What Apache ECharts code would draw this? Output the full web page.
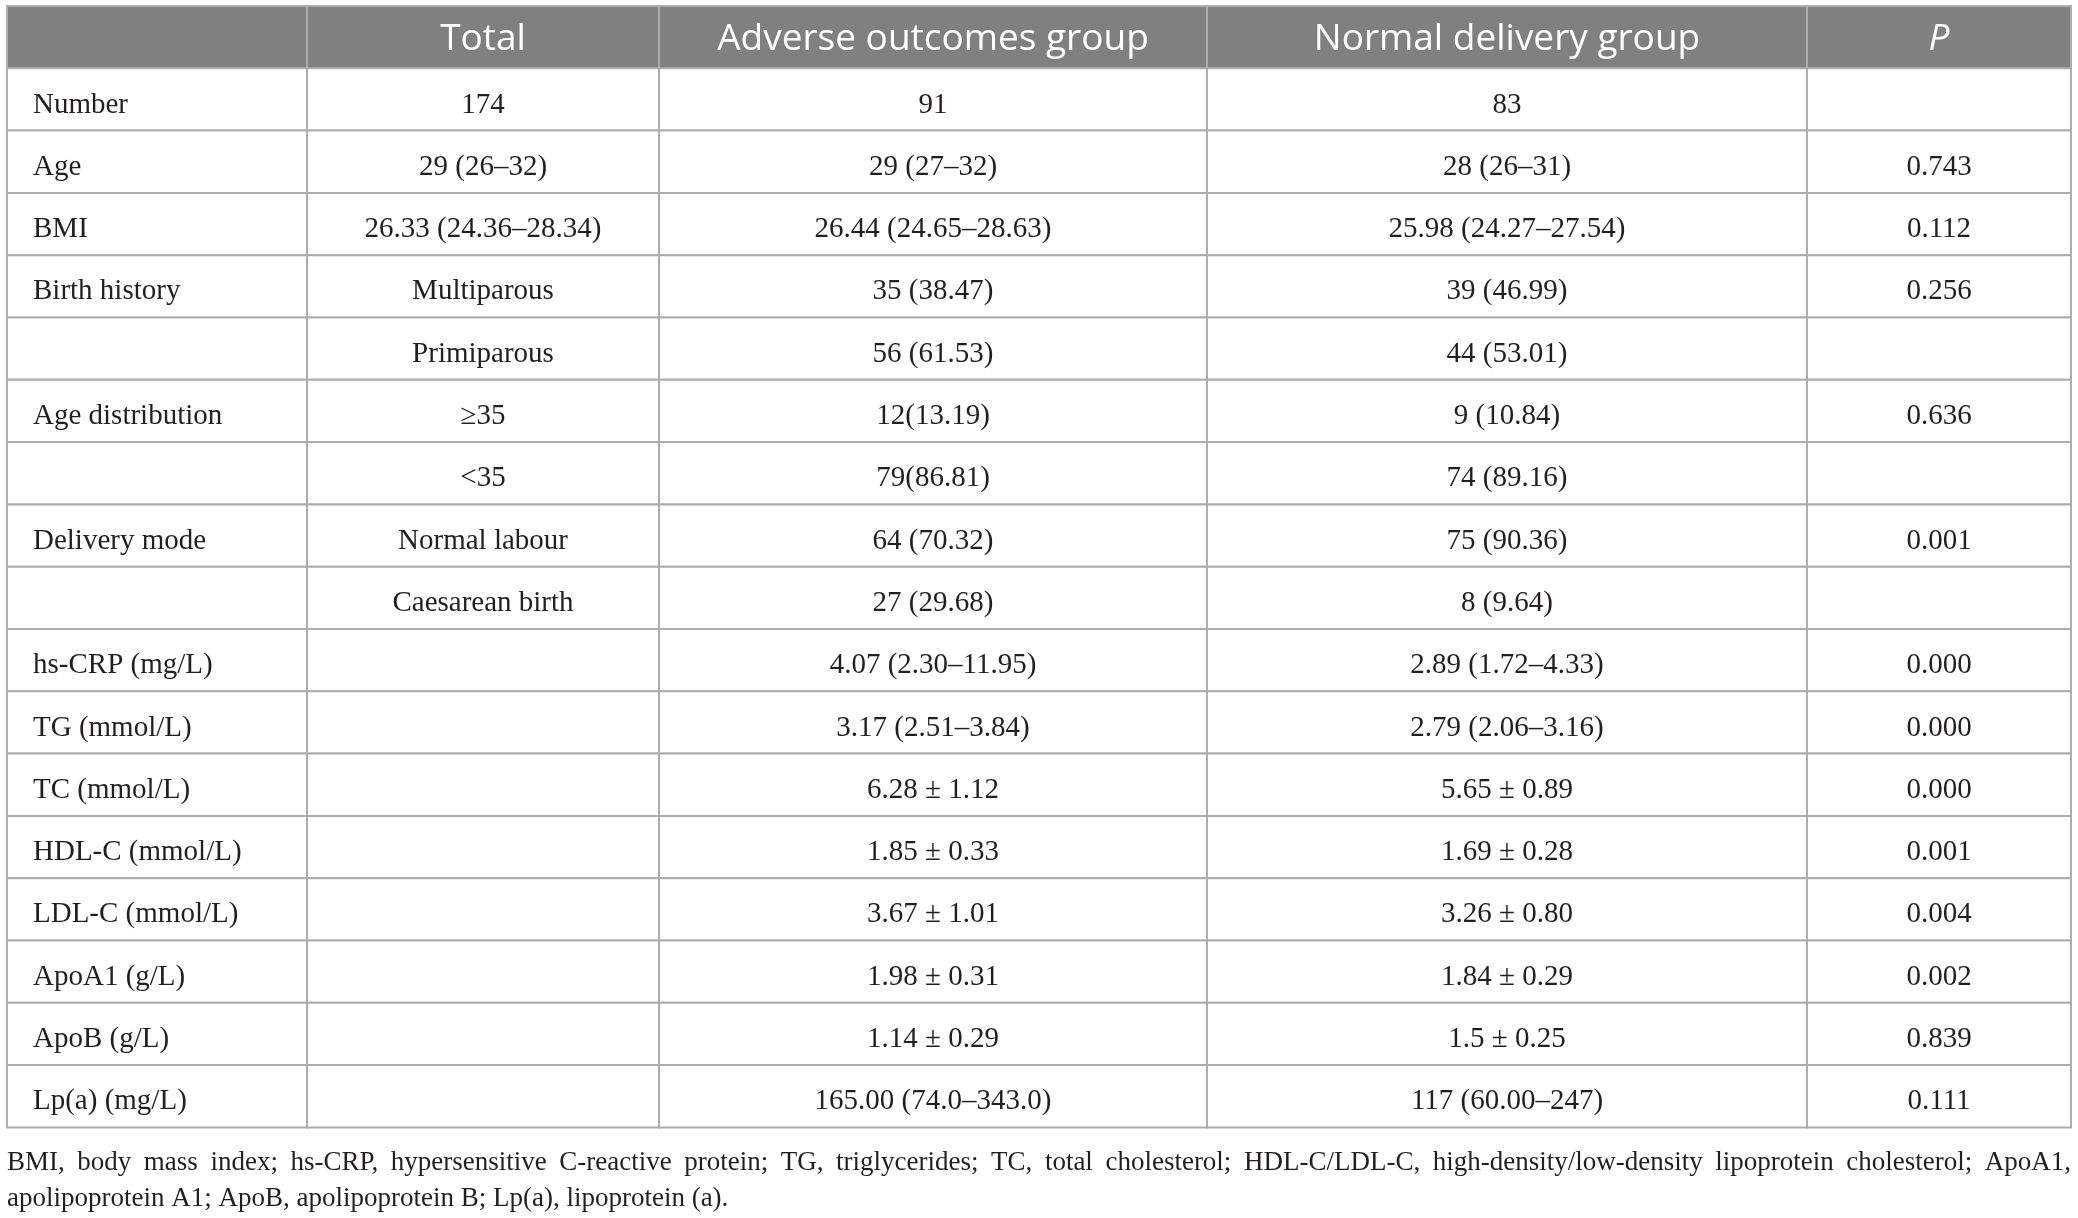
<!DOCTYPE html>
<html>
<head>
<meta charset="utf-8">
<script src="https://cdn.jsdelivr.net/npm/echarts@6/dist/echarts.min.js"></script>
<style>
html,body{margin:0;padding:0;background:#fff;}
#chart{width:2078px;height:1218px;}
</style>
</head>
<body>
<div id="chart"></div>
<script>
// ---------- data ----------
const headers = ['', 'Total', 'Adverse outcomes group', 'Normal delivery group', 'P'];
const rowLabels = ['Number', 'Age', 'BMI', 'Birth history', '', 'Age distribution', '', 'Delivery mode', '',
  'hs-CRP (mg/L)', 'TG (mmol/L)', 'TC (mmol/L)', 'HDL-C (mmol/L)', 'LDL-C (mmol/L)', 'ApoA1 (g/L)', 'ApoB (g/L)', 'Lp(a) (mg/L)'];
const totalCol = ['174', '29 (26–32)', '26.33 (24.36–28.34)', 'Multiparous', 'Primiparous', '≥35', '<35',
  'Normal labour', 'Caesarean birth', '', '', '', '', '', '', '', ''];
const adverseCol = ['91', '29 (27–32)', '26.44 (24.65–28.63)', '35 (38.47)', '56 (61.53)', '12(13.19)', '79(86.81)',
  '64 (70.32)', '27 (29.68)', '4.07 (2.30–11.95)', '3.17 (2.51–3.84)', '6.28 ± 1.12', '1.85 ± 0.33',
  '3.67 ± 1.01', '1.98 ± 0.31', '1.14 ± 0.29', '165.00 (74.0–343.0)'];
const normalCol = ['83', '28 (26–31)', '25.98 (24.27–27.54)', '39 (46.99)', '44 (53.01)', '9 (10.84)', '74 (89.16)',
  '75 (90.36)', '8 (9.64)', '2.89 (1.72–4.33)', '2.79 (2.06–3.16)', '5.65 ± 0.89', '1.69 ± 0.28',
  '3.26 ± 0.80', '1.84 ± 0.29', '1.5 ± 0.25', '117 (60.00–247)'];
const pCol = ['', '0.743', '0.112', '0.256', '', '0.636', '', '0.001', '', '0.000', '0.000', '0.000', '0.001',
  '0.004', '0.002', '0.839', '0.111'];
const footLine1 = 'BMI, body mass index; hs-CRP, hypersensitive C-reactive protein; TG, triglycerides; TC, total cholesterol; HDL-C/LDL-C, high-density/low-density lipoprotein cholesterol; ApoA1,';
const footLine2 = 'apolipoprotein A1; ApoB, apolipoprotein B; Lp(a), lipoprotein (a).';

// ---------- layout ----------
const TABLE_LEFT = 7, TABLE_TOP = 6, ROW_H = 62.3;
const colWidths = [300, 352, 548, 600, 264];
const colEdges = [0];
colWidths.forEach(w => colEdges.push(colEdges[colEdges.length - 1] + w));
const TABLE_W = colEdges[colEdges.length - 1];
const NROWS = rowLabels.length + 1;

const bodyFont = '29px "Liberation Serif", "Times New Roman", serif';
const headFont = '37px "Open Sans", sans-serif';
const headFontItalic = 'italic 37px "Open Sans", sans-serif';
const footFont = '27px "Liberation Serif", "Times New Roman", serif';

// build cell list from columns
const columns = [rowLabels, totalCol, adverseCol, normalCol, pCol];
const cells = [];
for (let c = 0; c < headers.length; c++) {
  cells.push({ value: [c, 0], text: headers[c] });
}
for (let r = 0; r < rowLabels.length; r++) {
  for (let c = 0; c < columns.length; c++) {
    cells.push({ value: [c, r + 1], text: columns[c][r] });
  }
}
const rowKeys = [];
for (let i = 0; i < NROWS; i++) rowKeys.push('row' + i);

function renderItem(params, api) {
  const c = api.value(0), r = api.value(1);
  const text = cells[params.dataIndex].text;
  const x0 = api.coord([colEdges[c], r])[0];
  const x1 = api.coord([colEdges[c + 1], r])[0];
  const yc = api.coord([0, r])[1];
  const h = api.size([0, 1])[1];
  const isHead = r === 0;
  const font = isHead ? (c === 4 ? headFontItalic : headFont) : bodyFont;
  return {
    type: 'group',
    children: [
      { type: 'rect', shape: { x: x0, y: yc - h / 2, width: x1 - x0, height: h },
        style: { fill: isHead ? '#808080' : '#ffffff', stroke: '#adadad', lineWidth: 2 } },
      { type: 'text', z2: 10,
        style: { text: text, x: (c === 0 && !isHead) ? x0 + 26 : (x0 + x1) / 2,
          y: yc + (isHead ? 2 : 5.5), align: (c === 0 && !isHead) ? 'left' : 'center',
          verticalAlign: 'middle', font: font, fill: isHead ? '#ffffff' : '#231f20' } }
    ]
  };
}

// justified footnote line
const ctx = document.createElement('canvas').getContext('2d');
ctx.font = footFont;
const words = footLine1.split(' ');
const widths = words.map(w => ctx.measureText(w).width);
const sumW = widths.reduce((a, b) => a + b, 0);
const gap = (TABLE_W - sumW) / (words.length - 1);
const footEls = [];
let xCursor = TABLE_LEFT;
words.forEach((w, i) => {
  footEls.push({ type: 'text', x: xCursor, y: 1163,
    style: { text: w, font: footFont, fill: '#231f20', align: 'left', verticalAlign: 'middle' } });
  xCursor += widths[i] + gap;
});
footEls.push({ type: 'text', x: TABLE_LEFT, y: 1199,
  style: { text: footLine2, font: footFont, fill: '#231f20', align: 'left', verticalAlign: 'middle' } });

const chart = echarts.init(document.getElementById('chart'), null, { renderer: 'canvas' });
chart.setOption({
  animation: false,
  backgroundColor: '#ffffff',
  grid: { left: TABLE_LEFT, top: TABLE_TOP, width: TABLE_W, height: ROW_H * NROWS },
  xAxis: { type: 'value', min: 0, max: TABLE_W, show: false },
  yAxis: { type: 'category', data: rowKeys, inverse: true, show: false },
  series: [{
    type: 'custom',
    coordinateSystem: 'cartesian2d',
    renderItem: renderItem,
    encode: { x: 0, y: 1 },
    clip: false,
    silent: true,
    data: cells.map(d => d.value)
  }],
  graphic: footEls
});
</script>
</body>
</html>
